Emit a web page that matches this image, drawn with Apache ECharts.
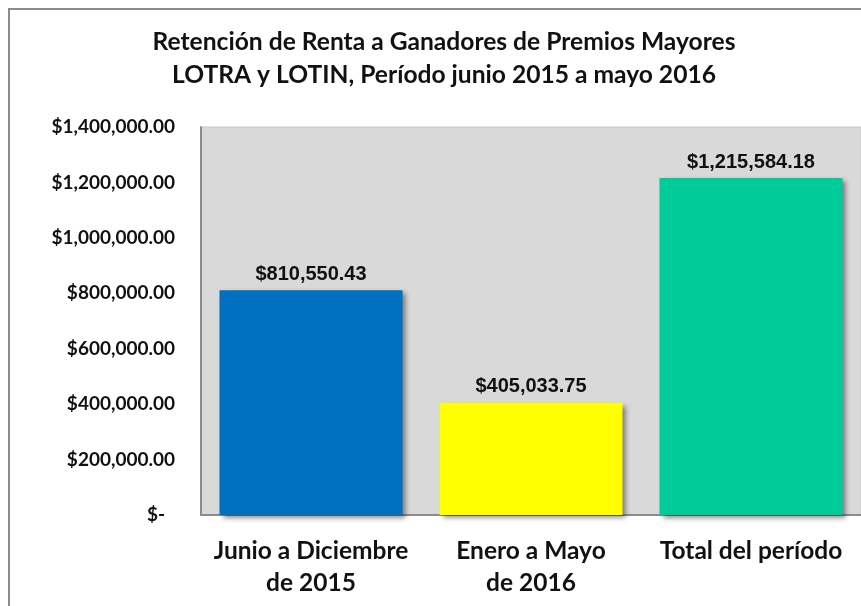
<!DOCTYPE html>
<html lang="es">
<head>
    <meta charset="UTF-8">
    <title>Retención de Renta</title>
    <script src="https://cdn.jsdelivr.net/npm/echarts@6/dist/echarts.min.js"></script>
    <style>
        html, body { margin: 0; padding: 0; background: #fff; }
        #chart { width: 861px; height: 606px; }
    </style>
</head>
<body>
<div id="chart"></div>
<script>
    // datos del gráfico
    var categorias = ['Junio a Diciembre\nde 2015', 'Enero a Mayo\nde 2016', 'Total del período'];
    var montos = [810550.43, 405033.75, 1215584.18];
    var colores = ['#0070c0', '#ffff00', '#00cc99'];
    var titulo = 'Retención de Renta a Ganadores de Premios Mayores\nLOTRA y LOTIN, Período junio 2015 a mayo 2016';

    function dinero(v) {
        return '$' + v.toLocaleString('en-US', {minimumFractionDigits: 2, maximumFractionDigits: 2});
    }

    var myChart = echarts.init(document.getElementById('chart'));
    myChart.setOption({
        animation: false,
        title: {
            text: titulo,
            left: 439,
            textAlign: 'center',
            top: 21,
            textStyle: {
                fontFamily: 'Lato', fontWeight: 'bold', fontSize: 24.6,
                lineHeight: 33, color: '#111'
            }
        },
        graphic: [{
            type: 'rect', silent: true,
            shape: {x: 9, y: 9, width: 900, height: 700},
            style: {fill: 'none', stroke: '#8c8c8c', lineWidth: 2}
        }],
        grid: {
            left: 201, top: 127, right: 0, bottom: 91,
            show: true, backgroundColor: '#d9d9d9', borderColor: '#c8c8c8', borderWidth: 1
        },
        xAxis: {
            type: 'category',
            data: categorias,
            axisTick: {show: false},
            axisLine: {lineStyle: {color: '#8c8c8c', width: 2}},
            axisLabel: {
                margin: 20, interval: 0,
                fontFamily: 'Lato', fontWeight: 'bold', fontSize: 24.5,
                lineHeight: 32, color: '#111'
            }
        },
        yAxis: {
            type: 'value',
            min: 0, max: 1400000, interval: 200000,
            splitLine: {show: false},
            axisTick: {show: false},
            axisLine: {show: true, lineStyle: {color: '#8c8c8c', width: 2}},
            axisLabel: {
                margin: 26,
                fontFamily: 'Lato', fontWeight: 'bold', fontSize: 19, color: '#111',
                formatter: function (v) {
                    return v === 0 ? '{z|$-}' : dinero(v);
                },
                rich: {
                    z: {fontFamily: 'Lato', fontWeight: 'bold', fontSize: 19, color: '#111', padding: [0, 10, 0, 0]}
                }
            }
        },
        series: [{
            type: 'bar',
            barWidth: 183,
            data: montos.map(function (v, i) {
                return {value: v, itemStyle: {color: colores[i]}};
            }),
            itemStyle: {
                shadowColor: 'rgba(0,0,0,0.45)', shadowBlur: 5,
                shadowOffsetX: 3, shadowOffsetY: 3
            },
            label: {
                show: true, position: 'top', distance: 6,
                fontFamily: 'Liberation Sans', fontWeight: 'bold', fontSize: 20, color: '#111',
                formatter: function (p) { return dinero(p.value); }
            }
        }]
    });
</script>
</body>
</html>
